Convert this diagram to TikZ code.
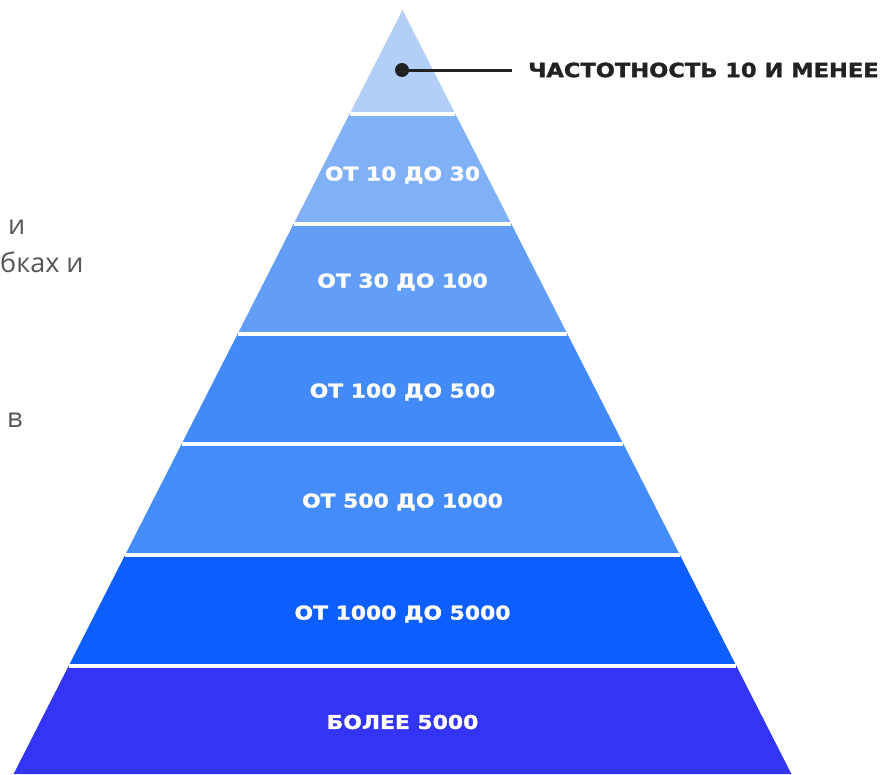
\documentclass[tikz,border=0pt]{standalone}
\usepackage{fontspec}
\usepackage{tikz}
\newfontfamily\bandfont[FakeStretch=1.15, BoldFeatures={FakeBold=1.5}]{DejaVu Sans}
\newfontfamily\notefont{Open Sans}
\definecolor{tierA}{HTML}{B3CFF7}
\definecolor{tierB}{HTML}{80B0F6}
\definecolor{tierC}{HTML}{629EF7}
\definecolor{tierD}{HTML}{418AF7}
\definecolor{tierE}{HTML}{448CF9}
\definecolor{tierF}{HTML}{0C5FFE}
\definecolor{tierG}{HTML}{3434F6}
\definecolor{ink}{HTML}{222222}
\definecolor{greytext}{HTML}{555555}

\begin{document}
\begin{tikzpicture}[x=1pt, y=-1pt, every node/.style={inner sep=0pt}]
                \tikzstyle{sep}=[white, line width=4pt]
                \tikzstyle{tier}=[font=\bandfont\bfseries\fontsize{19}{21}\selectfont, text=white]
                \tikzstyle{cut}=[font=\notefont\fontsize{27}{31}\selectfont, text=greytext, anchor=base west]
                \fill[white] (0,0) rectangle (886,774);

                \coordinate (apex) at (402.5,10);
                \coordinate (L1) at (349.6,114);  \coordinate (R1) at (455.4,114);
                \coordinate (L2) at (293.6,224);  \coordinate (R2) at (511.4,224);
                \coordinate (L3) at (237.6,334);  \coordinate (R3) at (567.4,334);
                \coordinate (L4) at (181.6,444);  \coordinate (R4) at (623.4,444);
                \coordinate (L5) at (125.1,555);  \coordinate (R5) at (679.9,555);
                \coordinate (L6) at (68.6,666);   \coordinate (R6) at (736.4,666);
                \coordinate (L7) at (13.6,774);   \coordinate (R7) at (791.4,774);

                % tiers, top to bottom
                \fill[tierA] (apex) -- (R1) -- (L1) -- cycle;
                \fill[tierB] (L1) -- (R1) -- (R2) -- (L2) -- cycle;
                \fill[tierC] (L2) -- (R2) -- (R3) -- (L3) -- cycle;
                \fill[tierD] (L3) -- (R3) -- (R4) -- (L4) -- cycle;
                \fill[tierE] (L4) -- (R4) -- (R5) -- (L5) -- cycle;
                \fill[tierF] (L5) -- (R5) -- (R6) -- (L6) -- cycle;
                \fill[tierG] (L6) -- (R6) -- (R7) -- (L7) -- cycle;

                \draw[sep] (L1) -- (R1);
                \draw[sep] (L2) -- (R2);
                \draw[sep] (L3) -- (R3);
                \draw[sep] (L4) -- (R4);
                \draw[sep] (L5) -- (R5);
                \draw[sep] (L6) -- (R6);

                \node[tier] (B) at (402.5,175) {ОТ 10 ДО 30};
                \node[tier] (C) at (402.5,282) {ОТ 30 ДО 100};
                \node[tier] (D) at (402.5,392) {ОТ 100 ДО 500};
                \node[tier] (E) at (402.5,502) {ОТ 500 ДО 1000};
                \node[tier] (F) at (402.5,614) {ОТ 1000 ДО 5000};
                \node[tier] (G) at (402.5,722) {БОЛЕЕ 5000};

                % callout for the top tier
                \coordinate (tail) at (512,70);
                \node[circle, fill=ink, minimum size=14pt] (dot) at (402,70) {};
                \node[anchor=west, font=\bandfont\bfseries\fontsize{19.6}{21}\selectfont, text=ink] (note) at (528,70) {ЧАСТОТНОСТЬ 10 И МЕНЕЕ};
                \draw[ink, line width=3pt] (dot.center) -- (tail);

                % cut-off text on the left
                \node[cut] (cutA) at (8,234)  {и};
                \node[cut] (cutB) at (0,272)  {бках и};
                \node[cut] (cutC) at (7,427)  {в};
            \end{tikzpicture}
\end{document}
